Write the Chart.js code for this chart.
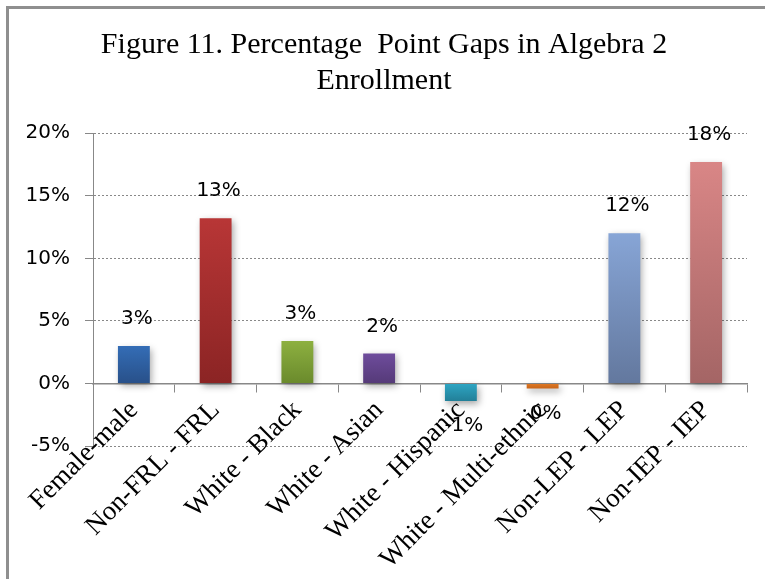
<!DOCTYPE html>
<html>
<head>
<meta charset="utf-8">
<script src="https://cdn.jsdelivr.net/npm/chart.js@4/dist/chart.umd.min.js"></script>
<style>
  html, body { margin: 0; padding: 0; background: #fff; }
  #frame {
    position: absolute; left: 6px; top: 6px;
    width: 759px; height: 573px;
    border-left: 3px solid #8f8f8f; border-top: 3px solid #8f8f8f;
  }
  #grafico { display: block; }
</style>
</head>
<body>
<div id="frame"><canvas id="grafico" width="756" height="570"></canvas></div>
<script>
// Datos
const categorias = ['Female-male', 'Non-FRL - FRL', 'White - Black', 'White - Asian',
  'White - Hispanic', 'White - Multi-ethnic', 'Non-LEP - LEP', 'Non-IEP - IEP'];
const brechas = [3.0, 13.2, 3.4, 2.4, -1.4, -0.4, 12.0, 17.7];
const tituloLineas = ['Figure 11. Percentage  Point Gaps in Algebra 2', 'Enrollment'];
const ticksY = [-5, 0, 5, 10, 15, 20];

// colores arriba / abajo de cada barra
const colorArriba = ['#346db6', '#b83636', '#8db040', '#6e4c9c', '#2ea6c4', '#e07a25', '#87a5d6', '#d98686'];
const colorAbajo = ['#285089', '#8b2424', '#6a8a2c', '#553a78', '#227f98', '#c86418', '#63789e', '#a46565'];

const sombra = {
  id: 'sombra',
  beforeDatasetsDraw(chart) {
    const c = chart.ctx;
    c.save();
    c.shadowColor = 'rgba(0,0,0,0.35)';
    c.shadowBlur = 7;
    c.shadowOffsetX = 2;
    c.shadowOffsetY = 3;
  },
  afterDatasetsDraw(chart) {
    chart.ctx.restore();
  }
};

const etiquetas = {
  id: 'etiquetas',
  afterDraw(chart) {
    const c = chart.ctx;
    const meta = chart.getDatasetMeta(0);
    c.save();
    c.font = '20px "DejaVu Sans"';
    c.fillStyle = '#000';
    c.textAlign = 'center';
    c.textBaseline = 'middle';
    meta.data.forEach((bar, i) => {
      const v = brechas[i];
      const txt = Math.round(v) + '%';
      const y = v >= 0 ? bar.y - 27 : bar.y + 25;
      c.fillText(txt, bar.x + 3, y);
    });
    c.restore();
  }
};

const ctx = document.getElementById('grafico').getContext('2d');
new Chart(ctx, {
  type: 'bar',
  data: {
    labels: categorias,
    datasets: [{
      data: brechas,
      backgroundColor: (context) => {
        const chart = context.chart;
        const y = chart.scales.y;
        if (!y || context.dataIndex === undefined) return colorArriba[0];
        const v = brechas[context.dataIndex];
        const top = y.getPixelForValue(Math.max(v, 0));
        const bottom = y.getPixelForValue(Math.min(v, 0));
        if (!isFinite(top) || !isFinite(bottom) || top === bottom) return colorArriba[context.dataIndex];
        const g = chart.ctx.createLinearGradient(0, top, 0, bottom);
        g.addColorStop(0, colorArriba[context.dataIndex]);
        g.addColorStop(1, colorAbajo[context.dataIndex]);
        return g;
      },
      borderWidth: 0,
      barPercentage: 0.39,
      categoryPercentage: 1.0
    }]
  },
  options: {
    responsive: false,
    animation: false,
    layout: { padding: { left: 12, right: 18, top: 0, bottom: 133 } },
    plugins: {
      legend: { display: false },
      tooltip: { enabled: false },
      title: {
        display: true,
        text: tituloLineas,
        color: '#000',
        font: { family: '"Liberation Serif"', size: 30, weight: 'normal', lineHeight: 1.17 },
        padding: { top: 19, bottom: 35 }
      }
    },
    scales: {
      y: {
        min: -5,
        max: 20,
        afterBuildTicks: (scale) => { scale.ticks = ticksY.map(v => ({ value: v })); },
        afterFit: (scale) => { scale.width = 72; },
        ticks: {
          callback: (v) => v + '%',
          color: '#000',
          padding: 15,
          font: { family: '"DejaVu Sans"', size: 20 }
        },
        grid: {
          color: (c) => (c.tick && c.tick.value === 0 ? 'rgba(0,0,0,0)' : '#888'),
          tickColor: '#888',
          tickLength: 8,
          lineWidth: 1
        },
        border: { color: '#888', width: 1, dash: [2, 2] }
      },
      x: {
        position: { y: 0 },
        ticks: {
          color: '#000',
          maxRotation: 45,
          minRotation: 45,
          autoSkip: false,
          font: { family: '"Liberation Serif"', size: 27 }
        },
        grid: {
          drawOnChartArea: false,
          tickColor: '#888',
          tickLength: 8
        },
        border: { color: '#888', width: 1.5 }
      }
    }
  },
  plugins: [sombra, etiquetas]
});
</script>
</body>
</html>
